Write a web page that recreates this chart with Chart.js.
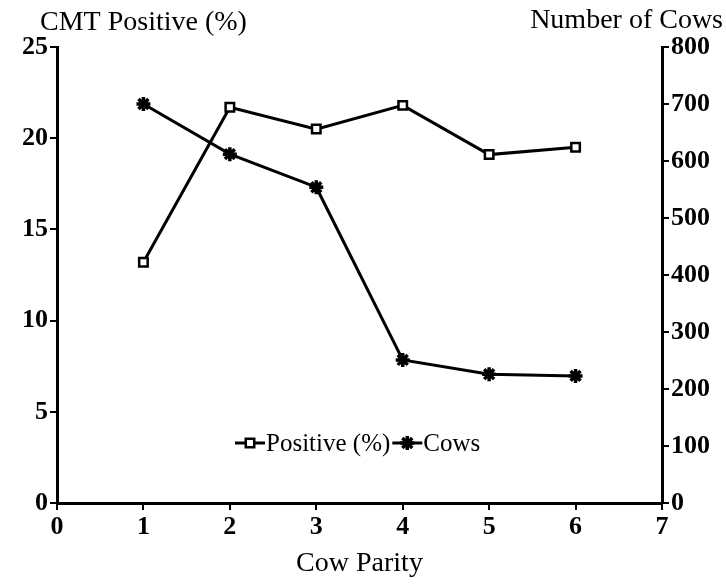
<!DOCTYPE html>
<html>
<head>
<meta charset="utf-8">
<script src="https://cdn.jsdelivr.net/npm/chart.js@4.4.1/dist/chart.umd.min.js"></script>
<style>
    html, body { margin: 0; padding: 0; background: #fff; }
    #wrap { width: 726px; height: 584px; }
</style>
</head>
<body>
<div id="wrap"><canvas id="cmtChart" width="726" height="584"></canvas></div>
<script>
// values
const parity = [1, 2, 3, 4, 5, 6];
const positivePct = [13.2, 21.7, 20.5, 21.8, 19.1, 19.5];
const cowCounts = [700, 612, 554, 251, 226, 223];

const serif = "'Liberation Serif', 'Times New Roman', serif";

function toPoints(values) {
    return parity.map((p, i) => ({ x: p, y: values[i] }));
}

// axis titles sit horizontally above the axes, legend sits inside the plot
const extraText = {
    id: 'extraText',
    afterDraw(chart) {
        const ctx = chart.ctx;
        const area = chart.chartArea;
        ctx.save();
        ctx.fillStyle = '#000';
        ctx.textBaseline = 'middle';
        ctx.font = '28px ' + serif;
        ctx.textAlign = 'left';
        ctx.fillText('CMT Positive (%)', area.left - 17, 23);
        ctx.textAlign = 'right';
        ctx.fillText('Number of Cows', 723, 21);

        // legend
        ctx.font = '25px ' + serif;
        ctx.textAlign = 'left';
        const ly = area.bottom - 60;
        let lx = area.left + 178;
        const sets = chart.data.datasets;
        sets.forEach(ds => {
            ctx.strokeStyle = '#000';
            ctx.lineWidth = 3;
            ctx.beginPath();
            ctx.moveTo(lx, ly);
            ctx.lineTo(lx + 30, ly);
            ctx.stroke();
            ctx.fillStyle = ds.pointBackgroundColor;
            ctx.lineWidth = ds.pointBorderWidth;
            Chart.helpers.drawPoint(ctx, {
                pointStyle: ds.pointStyle,
                radius: ds.pointRadius,
                rotation: 0,
                borderWidth: ds.pointBorderWidth
            }, lx + 15, ly);
            ctx.fillStyle = '#000';
            ctx.fillText(ds.label, lx + 31, ly + 1);
            lx += 31 + ctx.measureText(ds.label).width + 2;
        });
        ctx.restore();
    }
};

const axisBorder = { display: true, color: '#000', width: 3 };
const tickGrid = { drawOnChartArea: false, drawTicks: true, tickLength: 7, color: '#000', lineWidth: 2 };
const tickFont = { family: serif, size: 26, weight: 'bold' };

const ctx = document.getElementById('cmtChart').getContext('2d');
new Chart(ctx, {
    type: 'line',
    data: {
        datasets: [
            {
                label: 'Positive (%)',
                data: toPoints(positivePct),
                yAxisID: 'yLeft',
                borderColor: '#000',
                borderWidth: 3,
                pointStyle: 'rect',
                pointRadius: 6,
                pointBorderWidth: 2.5,
                pointBackgroundColor: '#fff',
                pointBorderColor: '#000',
                tension: 0
            },
            {
                label: 'Cows',
                data: toPoints(cowCounts),
                yAxisID: 'yRight',
                borderColor: '#000',
                borderWidth: 3,
                pointStyle: 'star',
                pointRadius: 7,
                pointBorderWidth: 3.5,
                pointBackgroundColor: '#000',
                pointBorderColor: '#000',
                tension: 0
            }
        ]
    },
    options: {
        responsive: false,
        animation: false,
        layout: { padding: { top: 47, left: 0, right: 0, bottom: 0 } },
        plugins: {
            legend: { display: false },
            tooltip: { enabled: false }
        },
        scales: {
            x: {
                type: 'linear',
                min: 0,
                max: 7,
                border: axisBorder,
                grid: tickGrid,
                ticks: { stepSize: 1, color: '#000', font: tickFont, padding: 2 },
                title: {
                    display: true,
                    text: 'Cow Parity',
                    color: '#000',
                    font: { family: serif, size: 28 },
                    padding: { top: 0, bottom: 4 }
                },
                afterFit(scale) { scale.height = 81; }
            },
            yLeft: {
                type: 'linear',
                position: 'left',
                min: 0,
                max: 25,
                border: axisBorder,
                grid: tickGrid,
                ticks: { stepSize: 5, color: '#000', font: tickFont, padding: 2 },
                afterFit(scale) { scale.width = 57; }
            },
            yRight: {
                type: 'linear',
                position: 'right',
                min: 0,
                max: 800,
                border: axisBorder,
                grid: tickGrid,
                ticks: { stepSize: 100, color: '#000', font: tickFont, padding: 2 },
                afterFit(scale) { scale.width = 64; }
            }
        }
    },
    plugins: [extraText]
});
</script>
</body>
</html>
